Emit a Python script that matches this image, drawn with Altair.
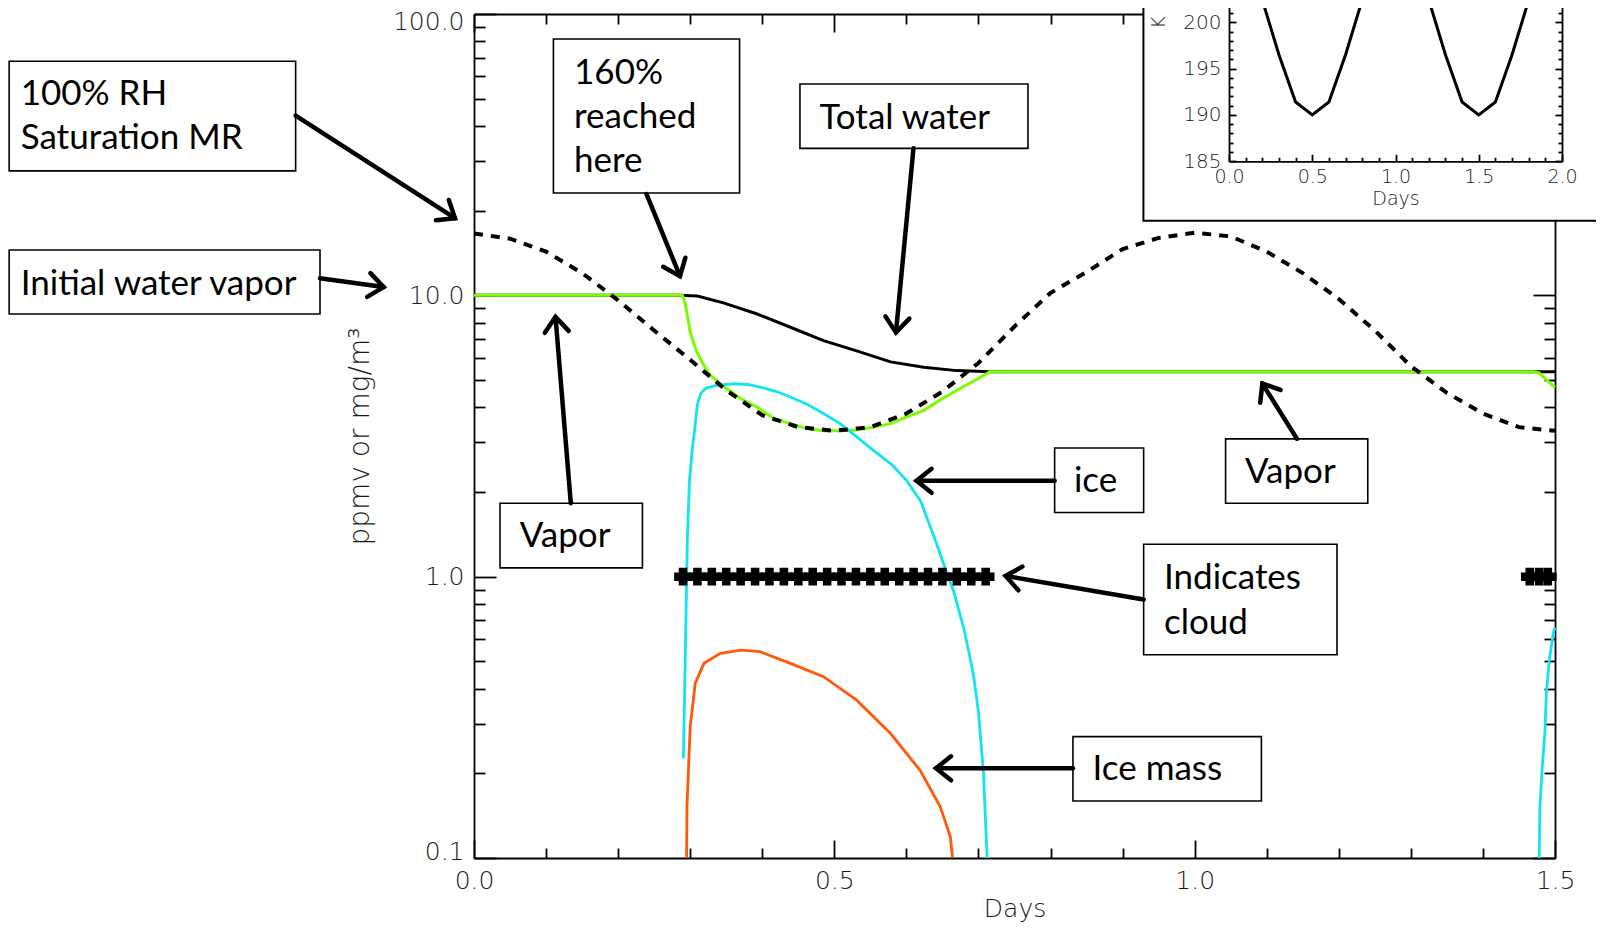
import math
import altair as alt
import pandas as pd

# ------------------------------------------------------------------ data
# 100 % RH saturation mixing ratio (dashed black), ppmv
sat_days = [0.00, 0.05, 0.10, 0.15, 0.20, 0.25, 0.30, 0.35, 0.40, 0.45, 0.50, 0.55, 0.60, 0.65,
            0.70, 0.75, 0.80, 0.85, 0.90, 0.95, 1.00, 1.05, 1.10, 1.15, 1.20, 1.25, 1.30, 1.35,
            1.40, 1.45, 1.50]
sat_vals = [16.6, 15.9, 14.3, 12.0, 9.6, 7.5, 5.9, 4.6, 3.75, 3.4, 3.3, 3.4, 3.8, 4.55,
            5.75, 7.75, 10.2, 12.1, 14.6, 16.0, 16.7, 16.2, 14.3, 12.0, 9.7, 7.5, 5.6, 4.5,
            3.8, 3.4, 3.3]

# water vapour (green)
vap_days = [0.0, 0.289, 0.293, 0.300, 0.308, 0.317, 0.328, 0.346, 0.370, 0.393, 0.416, 0.439,
            0.462, 0.485, 0.508, 0.531, 0.555, 0.578, 0.601, 0.624, 0.647, 0.670, 0.693, 0.716,
            1.470, 1.478, 1.500]
vap_vals = [10.0, 10.0, 9.4, 7.4, 6.4, 5.75, 5.2, 4.75, 4.3, 4.0, 3.65, 3.5,
            3.36, 3.3, 3.3, 3.32, 3.4, 3.5, 3.7, 3.9, 4.25, 4.6, 4.95, 5.35,
            5.35, 5.3, 4.7]

# total water (black)
tot_days = [0.0, 0.285, 0.310, 0.346, 0.392, 0.439, 0.485, 0.531, 0.578, 0.624, 0.670, 0.716, 1.500]
tot_vals = [10.0, 10.0, 9.95, 9.4, 8.6, 7.7, 6.9, 6.35, 5.8, 5.55, 5.4, 5.35, 5.35]

# ice (cyan), two episodes
ice1_days = [0.2905, 0.293, 0.296, 0.299, 0.303, 0.306, 0.310, 0.315, 0.322, 0.335, 0.360, 0.380,
             0.400, 0.420, 0.439, 0.462, 0.485, 0.508, 0.531, 0.555, 0.580, 0.600, 0.620, 0.640,
             0.655, 0.666, 0.680, 0.693, 0.700, 0.707, 0.712]
ice1_vals = [0.226, 0.49, 1.35, 2.2, 2.85, 3.3, 4.1, 4.5, 4.68, 4.78, 4.85, 4.82,
             4.7, 4.55, 4.35, 4.1, 3.8, 3.5, 3.14, 2.8, 2.5, 2.2, 1.85, 1.35,
             1.05, 0.88, 0.65, 0.45, 0.33, 0.2, 0.1]
ice2_days = [1.478, 1.479, 1.482, 1.486, 1.488, 1.492, 1.498, 1.500]
ice2_vals = [0.1, 0.15, 0.205, 0.28, 0.385, 0.505, 0.637, 0.66]

# ice mass (orange)
mass_days = [0.295, 0.2955, 0.300, 0.307, 0.319, 0.342, 0.370, 0.397, 0.439, 0.485, 0.531,
             0.578, 0.619, 0.647, 0.661, 0.664]
mass_vals = [0.1, 0.152, 0.293, 0.418, 0.492, 0.534, 0.548, 0.541, 0.492, 0.441, 0.364,
             0.277, 0.205, 0.152, 0.119, 0.1]

# cloud indicator (plotted at 1.0)
cloud_days = [0.29, 0.31, 0.33, 0.35, 0.37, 0.39, 0.41, 0.43, 0.45, 0.47, 0.49, 0.51, 0.53,
              0.55, 0.57, 0.59, 0.61, 0.63, 0.65, 0.67, 0.69, 0.71, 1.465, 1.478, 1.49]
cloud_level = 1.0

# inset: temperature (K)
temp_days = [0.0, 0.1, 0.2, 0.3, 0.4, 0.5, 0.6, 0.7, 0.8, 0.9, 1.0,
             1.1, 1.2, 1.3, 1.4, 1.5, 1.6, 1.7, 1.8, 1.9, 2.0]
temp_vals = [210, 207, 202.4, 196.5, 191.4, 190, 191.4, 196.5, 202.4, 207, 210,
             207, 202.4, 196.5, 191.4, 190, 191.4, 196.5, 202.4, 207, 210]

# axis tick values / labels
x_major = [0.0, 0.5, 1.0, 1.5]
x_ticks = [0.0, 0.1, 0.2, 0.3, 0.4, 0.5, 0.6, 0.7, 0.8, 0.9, 1.0, 1.1, 1.2, 1.3, 1.4, 1.5]
y_major = [0.1, 1, 10, 100]
y_ticks = [0.1, 0.2, 0.3, 0.4, 0.5, 0.6, 0.7, 0.8, 0.9,
           1, 2, 3, 4, 5, 6, 7, 8, 9,
           10, 20, 30, 40, 50, 60, 70, 80, 90, 100]
ix_major = [0.0, 0.5, 1.0, 1.5, 2.0]
ix_ticks = [0.0, 0.1, 0.2, 0.3, 0.4, 0.5, 0.6, 0.7, 0.8, 0.9, 1.0,
            1.1, 1.2, 1.3, 1.4, 1.5, 1.6, 1.7, 1.8, 1.9, 2.0]
iy_labels = [185, 190, 195, 200]
iy_ticks = list(range(185, 216))

# annotation boxes (data coordinates: days, ppmv)
box_x1 = [-0.645, -0.645, 0.1102, 0.4523, 0.0361, 0.8057, 1.0429, 0.9292, 0.8311]
box_x2 = [-0.2475, -0.2137, 0.3685, 0.7687, 0.2337, 0.9292, 1.2402, 1.1975, 1.0926]
box_lo = [27.7, 8.58, 23.1, 33.3, 1.075, 1.691, 1.823, 0.528, 0.1594]
box_hi = [67.9, 14.5, 81.5, 56.4, 1.823, 2.866, 3.088, 1.304, 0.270]

txt_text = ["100% RH", "Saturation MR", "Initial water vapor", "160%", "reached", "here",
            "Total water", "Vapor", "ice", "Vapor", "Indicates", "cloud", "Ice mass"]
txt_x = [-0.629, -0.629, -0.629, 0.1388, 0.1388, 0.1388, 0.4793, 0.0634, 0.8325, 1.0698,
         0.9574, 0.9574, 0.8583]
txt_y = [51.9, 36.2, 11.0, 61.9, 43.2, 30.1, 42.8, 1.394, 2.192, 2.363, 0.989, 0.684, 0.2066]

arr_x1 = [-0.2475, -0.2137, 0.2394, 0.6098, 0.1343, 0.8057, 1.1420, 0.9292, 0.8311]
arr_y1 = [43.5, 11.5, 22.9, 33.3, 1.823, 2.192, 3.088, 0.829, 0.2084]
arr_x2 = [-0.0264, -0.1254, 0.2858, 0.5855, 0.1131, 0.6141, 1.0940, 0.7376, 0.6411]
arr_y2 = [18.8, 10.7, 11.7, 7.38, 8.38, 2.192, 4.856, 1.006, 0.2084]

# inset frame box (inset coordinates: days, K)
ibox_x1, ibox_x2, ibox_lo, ibox_hi = [-0.514], [2.4], [178.6], [230.0]

# ------------------------------------------------------------------ layout
W, H = 1081, 844
X_DOM, Y_DOM = [0.0, 1.5], [0.1, 100.0]
INSET_XR = [755, 1088]
INSET_Y_DOM = [185, 215]
INSET_YR = [147.3, -130.8]

FONT_IDL = "DejaVu Sans"
FONT_NOTE = "Lato"


def mx(field, axis=None):
    return alt.X(field, type="quantitative",
                 scale=alt.Scale(domain=X_DOM, nice=False, zero=False), axis=axis)


def my(field, axis=None):
    return alt.Y(field, type="quantitative",
                 scale=alt.Scale(type="log", domain=Y_DOM, nice=False), axis=axis)


def ix(field, axis=None):
    return alt.X(field, type="quantitative",
                 scale=alt.Scale(domain=[0, 2], range=INSET_XR, nice=False, zero=False), axis=axis)


def iy(field, axis=None):
    return alt.Y(field, type="quantitative",
                 scale=alt.Scale(domain=INSET_Y_DOM, range=INSET_YR, nice=False, zero=False),
                 axis=axis)


def cond_size(test, major, minor):
    return {"condition": {"test": test, "value": major}, "value": minor}


x_major_test = "indexof([0, 0.5, 1, 1.5], datum.value) >= 0"
y_major_test = "indexof([0.1, 1, 10, 100], datum.value) >= 0"
ix_major_test = "indexof([0, 0.5, 1, 1.5, 2], datum.value) >= 0"
iy_major_test = "datum.value % 5 == 0"

# ------------------------------------------------------------------ main data layers
df_tot = pd.DataFrame({"day": tot_days, "val": tot_vals})
df_vap = pd.DataFrame({"day": vap_days, "val": vap_vals})
df_ice = pd.DataFrame({"day": ice1_days + ice2_days, "val": ice1_vals + ice2_vals,
                       "seg": [1] * len(ice1_days) + [2] * len(ice2_days)})
df_mass = pd.DataFrame({"day": mass_days, "val": mass_vals})
df_sat = pd.DataFrame({"day": sat_days, "val": sat_vals})
df_cloud = pd.DataFrame({"day": cloud_days, "val": [cloud_level] * len(cloud_days)})

axis_bottom = alt.Axis(orient="bottom", values=x_major, format=".1f", ticks=False, domain=True,
                       labelFlush=False, labelPadding=10, title="Days", titlePadding=3)
axis_left = alt.Axis(orient="left", values=y_major, labelExpr="format(datum.value, '.1f')",
                     ticks=False, domain=True, labelPadding=10,
                     labelOffset={"condition": [{"test": "datum.value == 100", "value": 7},
                                                {"test": "datum.value == 0.1", "value": -7}],
                                  "value": 0},
                     title="ppmv or mg/m³", titleFontSize=28,
                     titleX=-114, titleY=H / 2, titleAngle=270, titleAlign="center",
                     titleBaseline="middle")

l_tot = alt.Chart(df_tot).mark_line(color="black", strokeWidth=3).encode(
    x=mx("day", axis_bottom), y=my("val", axis_left))
l_vap = alt.Chart(df_vap).mark_line(color="#7CFC00", strokeWidth=3).encode(
    x=mx("day"), y=my("val"))
l_ice = alt.Chart(df_ice).mark_line(color="#12E4F0", strokeWidth=2.8).encode(
    x=mx("day"), y=my("val"), detail="seg:N")
l_mass = alt.Chart(df_mass).mark_line(color="#FF5A0A", strokeWidth=2.8).encode(
    x=mx("day"), y=my("val"))
l_sat = alt.Chart(df_sat).mark_line(color="black", strokeWidth=4, strokeDash=[9, 8]).encode(
    x=mx("day"), y=my("val"))
l_cloud = alt.Chart(df_cloud).mark_point(shape="cross", filled=True, size=230, color="black",
                                         stroke="black", strokeWidth=2.5, opacity=1).encode(
    x=mx("day"), y=my("val"))

# ------------------------------------------------------------------ annotations
df_box = pd.DataFrame({"x1": box_x1, "x2": box_x2, "lo": box_lo, "hi": box_hi})
df_txt = pd.DataFrame({"t": txt_text, "x": txt_x, "y": txt_y})


def px(d):
    return d / (X_DOM[1] - X_DOM[0]) * W


def py(v):
    return (math.log10(Y_DOM[1]) - math.log10(v)) / 3.0 * H


angles = [math.degrees(math.atan2(py(b) - py(a), px(d) - px(c))) % 360
          for a, b, c, d in zip(arr_y1, arr_y2, arr_x1, arr_x2)]
df_arr = pd.DataFrame({"x1": arr_x1, "y1": arr_y1, "x2": arr_x2, "y2": arr_y2, "ang": angles})

a_box = alt.Chart(df_box).mark_rect(fill="white", stroke="black", strokeWidth=1.6).encode(
    x=mx("x1"), x2="x2", y=my("lo"), y2="hi")
a_txt = alt.Chart(df_txt).mark_text(align="left", baseline="middle", font=FONT_NOTE,
                                    fontSize=35, color="black").encode(
    x=mx("x"), y=my("y"), text="t:N")
a_shaft = alt.Chart(df_arr).mark_rule(color="black", strokeWidth=4.5, strokeCap="round").encode(
    x=mx("x1"), y=my("y1"), x2="x2", y2="y2")
a_head = alt.Chart(df_arr).mark_point(shape="M -1 -0.8 L 0 0 L -1 0.8", filled=False,
                                      stroke="black", strokeWidth=4.5, size=900, opacity=1,
                                      strokeCap="round", strokeJoin="miter").encode(
    x=mx("x2"), y=my("y2"), angle=alt.Angle("ang:Q", scale=None))

# ------------------------------------------------------------------ inward frame ticks (main)
df_dummy = pd.DataFrame({"day": [0.75], "val": [1.0]})
m_ticks_bl = alt.Chart(df_dummy).mark_point(opacity=0).encode(
    x=mx("day", alt.Axis(orient="top", offset=-H, values=x_ticks, labels=False, domain=False,
                         tickSize=cond_size(x_major_test, 18, 10), title=None)),
    y=my("val", alt.Axis(orient="right", offset=-W, values=y_ticks, labels=False, domain=False,
                         tickSize=cond_size(y_major_test, 22, 11), title=None)))
m_ticks_tr = alt.Chart(df_dummy).mark_point(opacity=0).encode(
    x=mx("day", alt.Axis(orient="bottom", offset=-H, values=x_ticks, labels=False, domain=True,
                         tickSize=cond_size(x_major_test, 18, 10), title=None)),
    y=my("val", alt.Axis(orient="left", offset=-W, values=y_ticks, labels=False, domain=True,
                         tickSize=cond_size(y_major_test, 22, 11), title=None)))

# ------------------------------------------------------------------ inset
df_temp = pd.DataFrame({"day": temp_days, "val": temp_vals})
df_ibox = pd.DataFrame({"x1": ibox_x1, "x2": ibox_x2, "lo": ibox_lo, "hi": ibox_hi})

inset_axis_x = alt.Axis(orient="bottom", offset=INSET_YR[0] - H, values=ix_major, format=".1f",
                        ticks=False, domain=True, labelFlush=False, labelFontSize=19,
                        labelPadding=6, title="Days", titleFontSize=19, titlePadding=3, zindex=1)
inset_axis_y = alt.Axis(orient="left", offset=-INSET_XR[0], values=iy_labels, format="d",
                        ticks=False, domain=True, labelFontSize=20, labelPadding=8,
                        title="K", titleFontSize=19, titleX=-71, titleY=8, titleAngle=270,
                        titleAlign="center", titleBaseline="middle", zindex=1)

i_box = alt.Chart(df_ibox).mark_rect(fill="white", stroke="black", strokeWidth=2).encode(
    x=ix("x1", inset_axis_x), x2="x2", y=iy("lo", inset_axis_y), y2="hi")
i_line = alt.Chart(df_temp).mark_line(color="black", strokeWidth=3).encode(
    x=ix("day"), y=iy("val"))

df_idummy = pd.DataFrame({"day": [1.0], "val": [200.0]})
i_ticks_bl = alt.Chart(df_idummy).mark_point(opacity=0).encode(
    x=ix("day", alt.Axis(orient="top", offset=-INSET_YR[0], values=ix_ticks, labels=False,
                         domain=False, tickSize=cond_size(ix_major_test, 7, 4), title=None,
                         zindex=1)),
    y=iy("val", alt.Axis(orient="right", offset=INSET_XR[0] - W, values=iy_ticks, labels=False,
                         domain=False, tickSize=cond_size(iy_major_test, 7, 4), title=None,
                         zindex=1)))
i_ticks_r = alt.Chart(df_idummy).mark_point(opacity=0).encode(
    x=ix("day"),
    y=iy("val", alt.Axis(orient="left", offset=-INSET_XR[1], values=iy_ticks, labels=False,
                         domain=True, tickSize=cond_size(iy_major_test, 7, 4), title=None,
                         zindex=1)))

chart = alt.layer(
    l_tot, l_vap, l_ice, l_mass, l_sat, l_cloud,
    a_box, a_txt, a_shaft, a_head,
    m_ticks_bl, m_ticks_tr,
    i_box, i_line, i_ticks_bl, i_ticks_r,
).resolve_scale(x="independent", y="independent").properties(
    width=W, height=H,
    padding={"left": 466, "top": 6, "right": 41, "bottom": 68},
    autosize=alt.AutoSizeParams(type="none"),
).configure_view(stroke=None).configure_axis(
    grid=False, labelFont=FONT_IDL, labelFontSize=25, labelColor="#1a1a1a",
    labelFontWeight=300,
    titleFont=FONT_IDL, titleFontSize=25, titleColor="#1a1a1a", titleFontWeight=300,
    tickColor="black", tickWidth=1.8, domainColor="black", domainWidth=1.8,
)

chart.save("out.html", embed_options={"renderer": "svg", "actions": False})
